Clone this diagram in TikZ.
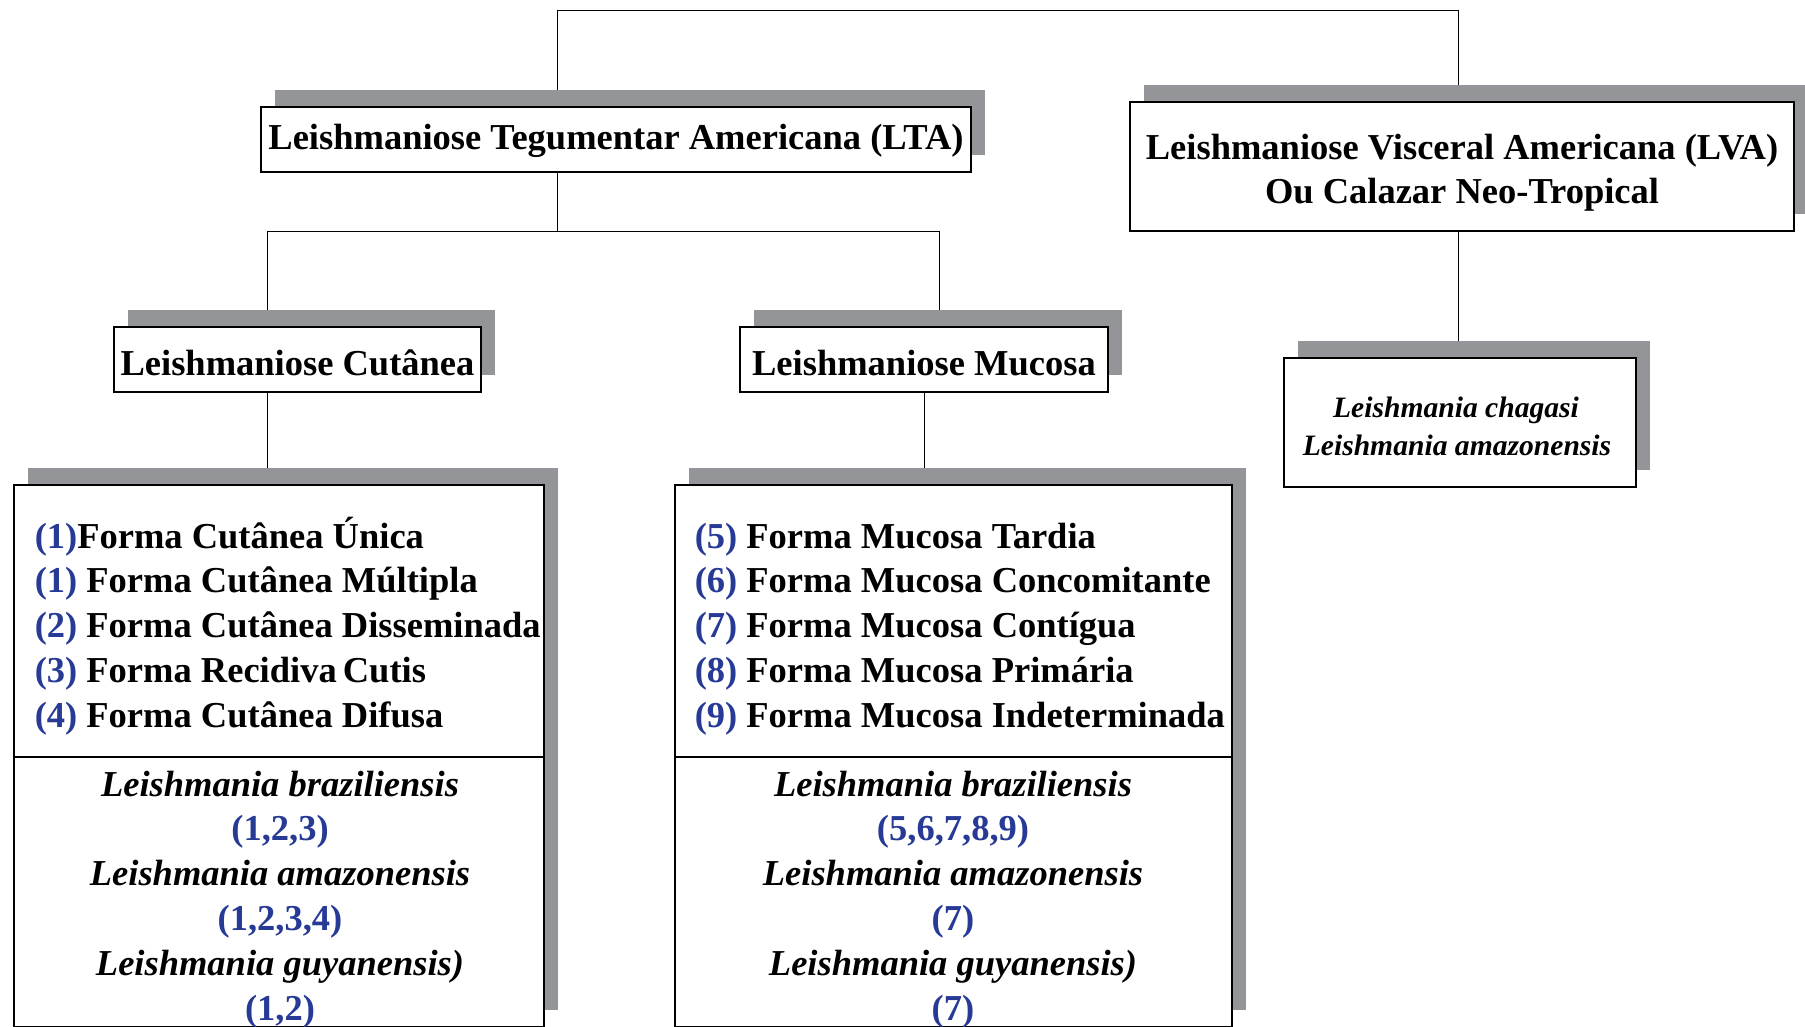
\documentclass[tikz,border=0pt]{standalone}
\usepackage{fontspec}
\setmainfont{Liberation Serif}
\usetikzlibrary{shadows,backgrounds}

\definecolor{numblue}{RGB}{38,58,150}
\definecolor{shadegray}{RGB}{147,149,153}
\newcommand{\fnum}[1]{\textcolor{numblue}{#1}}

\tikzset{every picture/.style={line width=1.5pt}}
\tikzset{
  boxed/.style={draw, line width=2pt, fill=white, inner sep=0pt,
    drop shadow={shadow xshift=14pt, shadow yshift=17pt, fill=shadegray, opacity=1}},
  headtext/.style={font=\fontsize{36.5}{44}\selectfont\bfseries, align=center},
  oneline/.style={text height=25pt, text depth=4pt},
  lowline/.style={text height=32pt, text depth=0pt},
  listtext/.style={font=\fontsize{36.5}{44.75}\selectfont\bfseries, inner sep=0pt},
  sptext/.style={font=\fontsize{29.6}{37.7}\selectfont\bfseries\itshape, align=center},
}

\begin{document}
\begin{tikzpicture}[x=1pt,y=1pt,yscale=-1,xscale=1]
\useasboundingbox (0,0) rectangle (1805,1027);

\node [boxed, headtext, oneline, minimum width=710pt, minimum height=65pt] (lta) at (616,139.5) {Leishmaniose Tegumentar Americana (LTA)};
\node [boxed, headtext, minimum width=664pt, minimum height=129pt] (lva) at (1462,166.5) {\rule{0pt}{37pt}Leishmaniose Visceral Americana (LVA)\\Ou Calazar Neo-Tropical};
\node [boxed, headtext, lowline, minimum width=367pt, minimum height=65pt] (cut) at (297.5,359.5) {Leishmaniose Cutânea};
\node [boxed, headtext, lowline, minimum width=368pt, minimum height=65pt] (muc) at (924,359.5) {Leishmaniose Mucosa};
\node [boxed, sptext, minimum width=352pt, minimum height=129pt] (spp) at (1460,422.5) {\rule{0pt}{28pt}Leishmania chagasi\hspace*{8pt}\\Leishmania amazonensis\hspace*{6pt}};

\node [boxed, minimum width=530pt, minimum height=542pt] (cutlist) at (279,756) {};
\node [boxed, minimum width=557pt, minimum height=542pt] (muclist) at (953.5,756) {};
\draw [line width=2pt] (cutlist.west |- 0,757) -- (cutlist.east |- 0,757);
\draw [line width=2pt] (muclist.west |- 0,757) -- (muclist.east |- 0,757);

% clinical forms
\foreach \t [count=\i] in {{\fnum{(1)}Forma Cutânea Única}, {\fnum{(1)} Forma Cutânea Múltipla}, {\fnum{(2)} Forma Cutânea Disseminada}, {\fnum{(3)} Forma Recidiva\,Cutis}, {\fnum{(4)} Forma Cutânea Difusa}}
  \node [listtext, anchor=base west] (cutform\i) at (34,{548+(\i-1)*44.75}) {\t};
\foreach \t [count=\i] in {{\fnum{(5)} Forma Mucosa Tardia}, {\fnum{(6)} Forma Mucosa Concomitante}, {\fnum{(7)} Forma Mucosa Contígua}, {\fnum{(8)} Forma Mucosa Primária}, {\fnum{(9)} Forma Mucosa Indeterminada}}
  \node [listtext, anchor=base west] (mucform\i) at (694,{548+(\i-1)*44.75}) {\t};

% species
\foreach \t [count=\i] in {{\textit{Leishmania braziliensis}}, {\fnum{(1,2,3)}}, {\textit{Leishmania amazonensis}}, {\fnum{(1,2,3,4)}}, {\textit{Leishmania guyanensis)}}, {\fnum{(1,2)}}}
  \node [listtext, anchor=base] (cutsp\i) at (280,{796+(\i-1)*44.8}) {\t};
\foreach \t [count=\i] in {{\textit{Leishmania braziliensis}}, {\fnum{(5,6,7,8,9)}}, {\textit{Leishmania amazonensis}}, {\fnum{(7)}}, {\textit{Leishmania guyanensis)}}, {\fnum{(7)}}}
  \node [listtext, anchor=base] (mucsp\i) at (953,{796+(\i-1)*44.8}) {\t};

\begin{scope}[on background layer]
\coordinate (topl) at (557,10);
\coordinate (topr) at (1458,10);
\coordinate (ltajoin) at (557,231);
\coordinate (cutjoin) at (267,231);
\coordinate (mucjoin) at (939,231);
\draw (lta.north -| topl) -- (topl) -- (topr) -- (topr |- lva.north);
\draw (lta.south -| ltajoin) -- (ltajoin);
\draw (cut.north -| cutjoin) |- (mucjoin) -- (mucjoin |- muc.north);
\draw (cut.south -| cutjoin) -- (cutlist.north -| cutjoin);
\draw (muc.south) -- (muclist.north -| muc.south);
\draw (lva.south -| topr) -- (spp.north -| topr);
\end{scope}

\end{tikzpicture}
\end{document}
